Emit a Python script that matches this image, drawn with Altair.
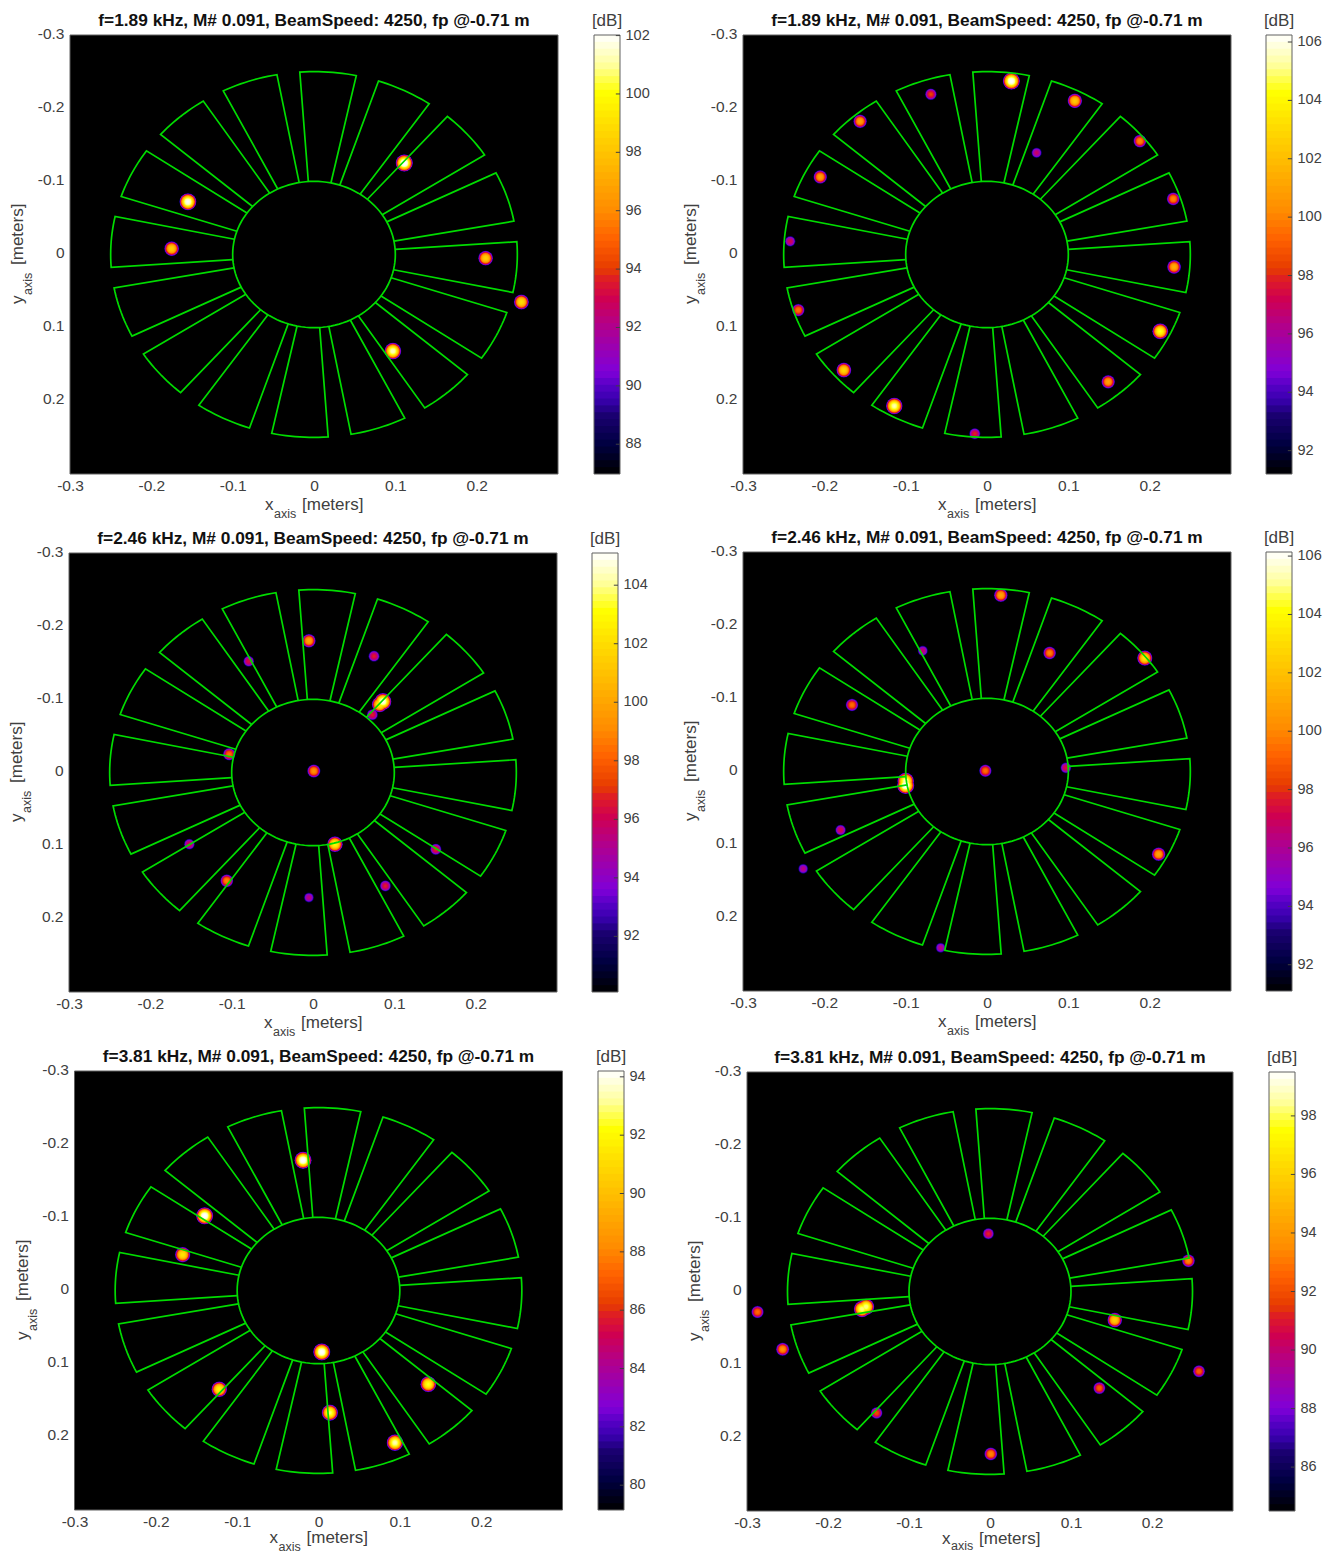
import math
import altair as alt
import pandas as pd

FONT = "Liberation Sans"
GREY = "#404040"
CW, CH = 1317, 1545   # chart area inside the page margin
H, CBW = 439, 26

titles = ["f=1.89 kHz, M# 0.091, BeamSpeed: 4250, fp @-0.71 m",
          "f=1.89 kHz, M# 0.091, BeamSpeed: 4250, fp @-0.71 m",
          "f=2.46 kHz, M# 0.091, BeamSpeed: 4250, fp @-0.71 m",
          "f=2.46 kHz, M# 0.091, BeamSpeed: 4250, fp @-0.71 m",
          "f=3.81 kHz, M# 0.091, BeamSpeed: 4250, fp @-0.71 m",
          "f=3.81 kHz, M# 0.091, BeamSpeed: 4250, fp @-0.71 m"]

# panel frames in chart pixels
panel_left = [62, 735, 61, 735, 66.5, 739]
panel_width = [488, 488, 488, 488, 488, 486]
panel_top = [27, 27, 545, 544, 1063, 1064]
cbar_left = [586, 1258, 584, 1258, 590, 1261]
xtitle_shift = [0, 0, 0, 0, -3, -3]
xsub_shift = [0, 0, 0, 0, -3, -5]

# colour bar limits and ticks (dB)
cb_lo = [86.98, 91.2, 90.1, 91.1, 79.15, 84.5]
cb_hi = [102.02, 106.24, 105.1, 106.14, 94.2, 99.5]
cb_ticks = [[88, 90, 92, 94, 96, 98, 100, 102],
            [92, 94, 96, 98, 100, 102, 104, 106],
            [92, 94, 96, 98, 100, 102, 104],
            [92, 94, 96, 98, 100, 102, 104, 106],
            [80, 82, 84, 86, 88, 90, 92, 94],
            [86, 88, 90, 92, 94, 96, 98]]

# source spots
p1_x = [0.111, -0.155, -0.175, 0.211, 0.255, 0.097]
p1_y = [-0.125, -0.072, -0.008, 0.005, 0.065, 0.132]
p1_db = [102.5, 102, 98.5, 98.5, 99, 101.5]

p2_x = [0.030, 0.108, 0.188, 0.229, 0.230, 0.213, 0.149, -0.015, -0.114, -0.176, -0.232, -0.242, -0.205, -0.156, -0.069, 0.061]
p2_y = [-0.237, -0.210, -0.155, -0.076, 0.017, 0.105, 0.174, 0.245, 0.207, 0.158, 0.076, -0.018, -0.106, -0.182, -0.219, -0.139]
p2_db = [106.5, 102.5, 100.2, 100.2, 101.5, 104.5, 101, 98, 105.5, 103, 99.7, 97.3, 101, 101, 98.5, 97]

p3_x = [-0.005, 0.075, -0.079, 0.082, 0.086, 0.073, -0.103, 0.001, 0.027, -0.152, 0.151, -0.106, 0.089, -0.005]
p3_y = [-0.180, -0.159, -0.152, -0.093, -0.097, -0.079, -0.025, -0.002, 0.098, 0.098, 0.105, 0.148, 0.155, 0.171]
p3_db = [100, 96.8, 96.5, 103, 105, 96.8, 98.4, 99.4, 103, 96.4, 97, 99, 96.8, 95.5]

p4_x = [0.017, 0.077, 0.194, -0.079, -0.166, -0.002, 0.097, -0.100, -0.100, -0.180, 0.211, -0.226, -0.057]
p4_y = [-0.241, -0.162, -0.155, -0.165, -0.091, -0.001, -0.005, 0.013, 0.019, 0.080, 0.113, 0.133, 0.241]
p4_db = [101, 100, 103.5, 96.8, 99.5, 99.5, 97.5, 105.5, 106.5, 97.3, 101, 96.5, 96.5]

p5_x = [-0.019, -0.140, -0.167, 0.004, -0.122, 0.135, 0.014, 0.094]
p5_y = [-0.178, -0.102, -0.049, 0.084, 0.135, 0.128, 0.167, 0.208]
p5_db = [94.5, 94.5, 91.5, 94.5, 92, 92.5, 93, 93.5]

p6_x = [-0.002, 0.245, -0.287, -0.158, -0.153, 0.154, -0.256, 0.258, 0.135, -0.140, 0.001]
p6_y = [-0.079, -0.042, 0.028, 0.024, 0.021, 0.039, 0.079, 0.109, 0.132, 0.166, 0.222]
p6_db = [91.3, 93.5, 92.8, 98.5, 98.5, 96, 93.8, 92.5, 92.5, 92, 93.5]

spots = [(p1_x, p1_y, p1_db), (p2_x, p2_y, p2_db), (p3_x, p3_y, p3_db),
         (p4_x, p4_y, p4_db), (p5_x, p5_y, p5_db), (p6_x, p6_y, p6_db)]

# blade outlines: leading edge angle, clockwise from the top (degrees)
blade_start = [-4, 18.5, 41, 63.5, 86, 108.5, 131, 153.5, 176, 198.5, 221, 243.5, 266, 288.5, 311, 333.5]
blade_width = 16
r_inner = 0.1
r_outer = 0.25

# colour map
cmap_t = [0, 0.067, 0.133, 0.17, 0.2, 0.233, 0.267, 0.333, 0.4, 0.447, 0.467, 0.533, 0.6, 0.667, 0.733, 0.8, 0.867, 0.933, 1]
cmap_c = ["#000000", "#000040", "#1a0070", "#3a00b0", "#5500c4", "#8000d8", "#9000c0", "#b0008f", "#d00050",
          "#e02020", "#e63c00", "#ff6000", "#ff8c00", "#ffa800", "#ffc400", "#ffe000", "#ffff00", "#ffffa0", "#ffffff"]
color_scale = alt.Scale(domain=cmap_t, range=cmap_c, interpolate="rgb", clamp=True)

K = 0.2  # dB per px^2: sets a spot's overall size from its height above the floor
EXP = 0.76  # spot profile: how steeply the rim falls to the floor
STEP = 0.25

rows = []
for gid, a0 in enumerate(blade_start):
    pts = [(r_inner, a0)] + [(r_outer, a0 + blade_width * j / 12) for j in range(13)] + [(r_inner, a0 + blade_width)]
    for i, (r, a) in enumerate(pts):
        rows.append({"g": gid, "i": i, "x": r * math.sin(math.radians(a)), "y": -r * math.cos(math.radians(a))})
for i in range(121):
    a = i * 3
    rows.append({"g": 99, "i": i, "x": r_inner * math.sin(math.radians(a)), "y": -r_inner * math.cos(math.radians(a))})
outline_df = pd.DataFrame(rows)


def text_layer(txt, x, y, size, angle=0, align="left", weight="normal", color=GREY):
    return alt.Chart(pd.DataFrame({"t": [txt]})).mark_text(
        font=FONT, fontSize=size, angle=angle, align=align, baseline="alphabetic",
        fontWeight=weight, color=color
    ).encode(x=alt.value(x), y=alt.value(y), text="t:N")


def panel_layers(idx):
    L, T, W = panel_left[idx], panel_top[idx], panel_width[idx]
    lo, hi = cb_lo[idx], cb_hi[idx]
    sx, sy, sdb = spots[idx]
    rr = []
    for x, y, p in zip(sx, sy, sdb):
        v = lo
        while v < p:
            # a Vega circle's size is its bounding square's area, 4 r^2
            s = 4 * (p - lo) / K * ((p - v) / (p - lo)) ** EXP
            rr.append({"x": x, "y": y, "t": (v - lo) / (hi - lo), "v": v, "s": s})
            v += STEP
    df = pd.DataFrame(rr).sort_values("v")
    sc = alt.Scale(domain=[-0.3, 0.3], range=[L, L + W], nice=False, zero=False)
    scy = alt.Scale(domain=[-0.3, 0.3], range=[T, T + H], nice=False, zero=False)
    ticks = [-0.3, -0.2, -0.1, 0, 0.1, 0.2]
    ex = dict(grid=False, domain=False, ticks=False, labelFont=FONT, labelColor=GREY, labelFontSize=15.5,
              labelExpr="'' + round(datum.value*10)/10", title=None, values=ticks, labelOverlap=False)
    xax = alt.Axis(orient="bottom", offset=T + H - CH, labelPadding=4, labelFlush=False, **ex)
    yax = alt.Axis(orient="left", offset=-L, labelPadding=6, labelOffset=-2, **ex)
    frame = pd.DataFrame({"a": [-0.3], "b": [0.3], "c": [-0.3], "d": [0.3]})
    bg = alt.Chart(frame).mark_rect(fill="#000000", stroke="#606060", strokeWidth=1).encode(
        x=alt.X("a:Q", scale=sc, axis=xax), x2="b:Q", y=alt.Y("c:Q", scale=scy, axis=yax), y2="d:Q")
    blobs = alt.Chart(df).mark_circle(opacity=1).encode(
        x=alt.X("x:Q", scale=sc, axis=None), y=alt.Y("y:Q", scale=scy, axis=None),
        size=alt.Size("s:Q", scale=None, legend=None),
        color=alt.Color("t:Q", scale=color_scale, legend=None))
    lines = alt.Chart(outline_df).mark_line(color="#00dc00", strokeWidth=1.7).encode(
        x=alt.X("x:Q", scale=sc, axis=None), y=alt.Y("y:Q", scale=scy, axis=None),
        detail="g:N", order="i:Q")
    mid = L + W / 2
    dy = xtitle_shift[idx]
    texts = [
        text_layer(titles[idx], mid, T - 9, 17.3, align="center", weight="bold", color="#111111"),
        text_layer("x", L + 195, T + 475 + dy, 17), text_layer("axis", L + 204, T + 483 + xsub_shift[idx], 12.5),
        text_layer("[meters]", L + 232, T + 475 + dy, 17),
        text_layer("y", L - 47, T + 269, 17, 270), text_layer("axis", L - 38, T + 260, 12.5, 270),
        text_layer("[meters]", L - 47, T + 230, 17, 270),
    ]
    return [bg, blobs, lines] + texts


def colorbar_layers(idx):
    C, T = cbar_left[idx], panel_top[idx]
    lo, hi = cb_lo[idx], cb_hi[idx]
    n = 64
    xs = alt.Scale(domain=[0, 1], range=[C, C + CBW], nice=False, zero=False)
    ys = alt.Scale(domain=[lo, hi], range=[T + H, T], nice=False, zero=False)
    bins = pd.DataFrame({
        "x0": [0] * n, "x1": [1] * n,
        "a": [lo + (hi - lo) * i / n for i in range(n)],
        "b": [min(hi, lo + (hi - lo) * (i + 1.4) / n) for i in range(n)],
        "t": [(i + 0.5) / n for i in range(n)],
    })
    rect = alt.Chart(bins).mark_rect().encode(
        x=alt.X("x0:Q", scale=xs, axis=None), x2="x1:Q",
        y=alt.Y("a:Q", scale=ys,
                axis=alt.Axis(orient="right", offset=C + CBW - CW, values=cb_ticks[idx], grid=False, domain=False,
                              ticks=False, title=None, labelFont=FONT, labelColor=GREY, labelFontSize=14.5,
                              labelPadding=5, labelOverlap=False, labelOffset=-0.5)),
        y2="b:Q",
        color=alt.Color("t:Q", scale=color_scale, legend=None))
    box = pd.DataFrame({"x0": [0], "x1": [1], "a": [lo], "b": [hi]})
    frame = alt.Chart(box).mark_rect(fill=None, stroke="#606060", strokeWidth=1).encode(
        x=alt.X("x0:Q", scale=xs, axis=None), x2="x1:Q", y=alt.Y("a:Q", scale=ys, axis=None), y2="b:Q")
    k = len(cb_ticks[idx])
    tks = alt.Chart(pd.DataFrame({"v": cb_ticks[idx], "a": [0.84] * k, "b": [1.0] * k})).mark_rule(
        color="#404040", strokeWidth=1).encode(
        x=alt.X("a:Q", scale=xs, axis=None), x2="b:Q", y=alt.Y("v:Q", scale=ys, axis=None))
    return [rect, frame, tks, text_layer("[dB]", C + 13, T - 9, 17, align="center")]


layers = []
for i in range(6):
    layers += panel_layers(i) + colorbar_layers(i)

chart = alt.layer(*layers).resolve_scale(x="independent", y="independent").properties(
    width=CW, height=CH,
    autosize=alt.AutoSizeParams(type="none"),
    padding=0,
    background="#ffffff",
    view=alt.ViewConfig(stroke=None),
)
chart.save("out.html", embed_options={"renderer": "svg", "actions": False})
